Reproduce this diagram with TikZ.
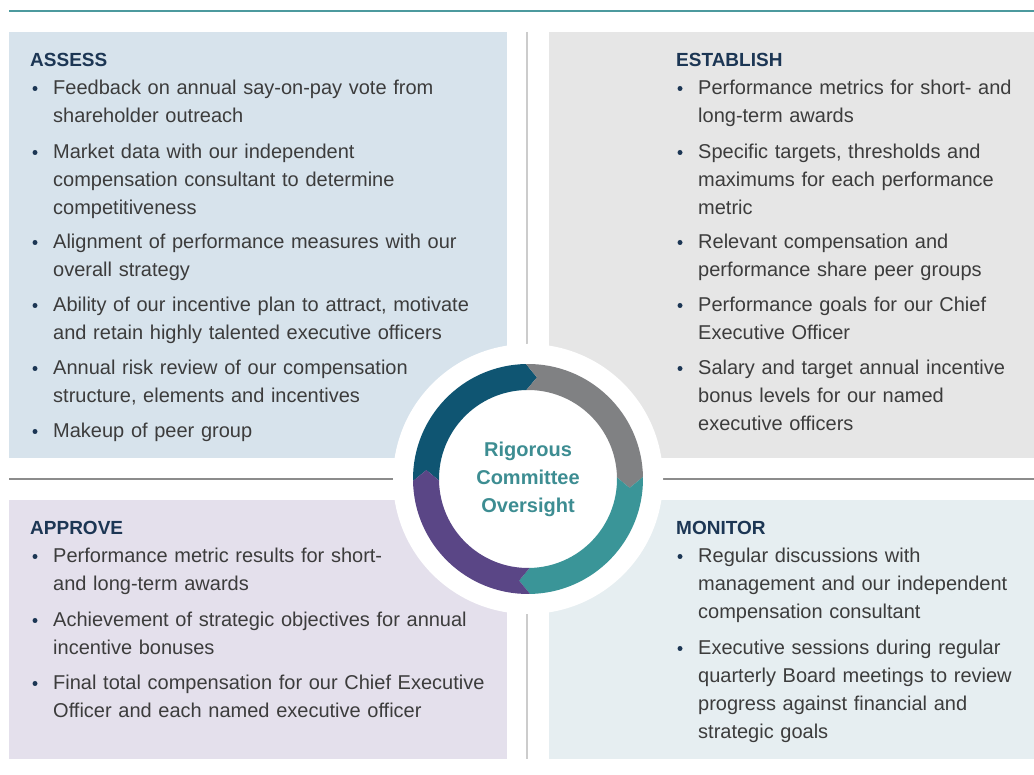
\documentclass[tikz,border=0pt]{standalone}
\usepackage{fontspec}
\setsansfont{Liberation Sans}
\usepackage{tikz}
\definecolor{headblue}{HTML}{1C3654}
\definecolor{bodygray}{HTML}{3C3C3C}
\definecolor{toplinec}{HTML}{4C9A9E}
\definecolor{assessc}{HTML}{D7E3EC}
\definecolor{establishc}{HTML}{E6E6E6}
\definecolor{approvec}{HTML}{E4E0EC}
\definecolor{monitorc}{HTML}{E6EEF1}
\definecolor{ringdark}{HTML}{0F5572}
\definecolor{ringgray}{HTML}{808183}
\definecolor{ringteal}{HTML}{3A9598}
\definecolor{ringpurple}{HTML}{5A4686}
\definecolor{hubteal}{HTML}{3D8D92}
% one chevron piece of the ring: colour, start angle, end angle
\newcommand{\ringpart}[3]{%
  \fill[#1, shift={(hub)}] (#2+6:115) arc[start angle=#2+6, end angle=#3+6, radius=115]
    -- (#3:102) -- (#3+6:89) arc[start angle=#3+6, end angle=#2+6, radius=89]
    -- (#2:102) -- cycle;}
% bullet plus text: name, x, y (first baseline), text
\newcommand{\keyitem}[4]{%
  \node[bul] (#1b) at (#2-18,#3+6.5) {};
  \node[item] (#1) at (#2,#3) {#4};}

\begin{document}
\begin{tikzpicture}[x=1pt, y=1pt,
    head/.style={font=\sffamily\bfseries\fontsize{19}{22}\selectfont, text=headblue, anchor=base west, inner sep=0pt},
    item/.style={font=\sffamily\fontsize{20}{28}\selectfont, text=bodygray, anchor=base west, inner sep=0pt, text width=480pt, align=left},
    bul/.style={circle, fill=headblue, inner sep=0pt, minimum size=5pt},
    hubtext/.style={font=\sffamily\bfseries\fontsize{20}{28}\selectfont, text=hubteal, align=center, inner sep=0pt}]
  \useasboundingbox (0,0) rectangle (1034,775);
  \fill[white] (0,0) rectangle (1034,775);

  % frame
  \draw[toplinec, line width=2pt] (9,764) -- (1034,764);
  \fill[assessc] (9,317) rectangle (507,743);
  \fill[establishc] (549,317) rectangle (1034,743);
  \fill[approvec] (9,16) rectangle (507,275);
  \fill[monitorc] (549,16) rectangle (1034,275);
  \draw[black!20, line width=1.5pt] (527,743) -- (527,16);
  \draw[black!45, line width=1.5pt] (9,296) -- (1034,296);

  % ring in the middle
  \coordinate (hub) at (528,296);
  \fill[white] (hub) circle[radius=135];
  \ringpart{ringdark}{175}{85}
  \ringpart{ringgray}{85}{-5}
  \ringpart{ringteal}{-5}{-95}
  \ringpart{ringpurple}{-95}{-185}
  \node[hubtext] (oversight) at (hub) {Rigorous\\Committee\\Oversight};

  % assess
  \node[head] (assess) at (30,708) {ASSESS};
  \keyitem{a1}{53}{680}{Feedback on annual say-on-pay vote from\\shareholder outreach}
  \keyitem{a2}{53}{616}{Market data with our independent\\compensation consultant to determine\\competitiveness}
  \keyitem{a3}{53}{526}{Alignment of performance measures with our\\overall strategy}
  \keyitem{a4}{53}{463}{Ability of our incentive plan to attract, motivate\\and retain highly talented executive officers}
  \keyitem{a5}{53}{400}{Annual risk review of our compensation\\structure, elements and incentives}
  \keyitem{a6}{53}{337}{Makeup of peer group}

  % establish
  \node[head] (establish) at (676,708) {ESTABLISH};
  \keyitem{e1}{698}{680}{Performance metrics for short- and\\long-term awards}
  \keyitem{e2}{698}{616}{Specific targets, thresholds and\\maximums for each performance\\metric}
  \keyitem{e3}{698}{526}{Relevant compensation and\\performance share peer groups}
  \keyitem{e4}{698}{463}{Performance goals for our Chief\\Executive Officer}
  \keyitem{e5}{698}{400}{Salary and target annual incentive\\bonus levels for our named\\executive officers}

  % approve
  \node[head] (approve) at (30,240) {APPROVE};
  \keyitem{p1}{53}{212}{Performance metric results for short-\\and long-term awards}
  \keyitem{p2}{53}{148}{Achievement of strategic objectives for annual\\incentive bonuses}
  \keyitem{p3}{53}{85}{Final total compensation for our Chief Executive\\Officer and each named executive officer}

  % monitor
  \node[head] (monitor) at (676,240) {MONITOR};
  \keyitem{m1}{698}{212}{Regular discussions with\\management and our independent\\compensation consultant}
  \keyitem{m2}{698}{120}{Executive sessions during regular\\quarterly Board meetings to review\\progress against financial and\\strategic goals}
\end{tikzpicture}
\end{document}
